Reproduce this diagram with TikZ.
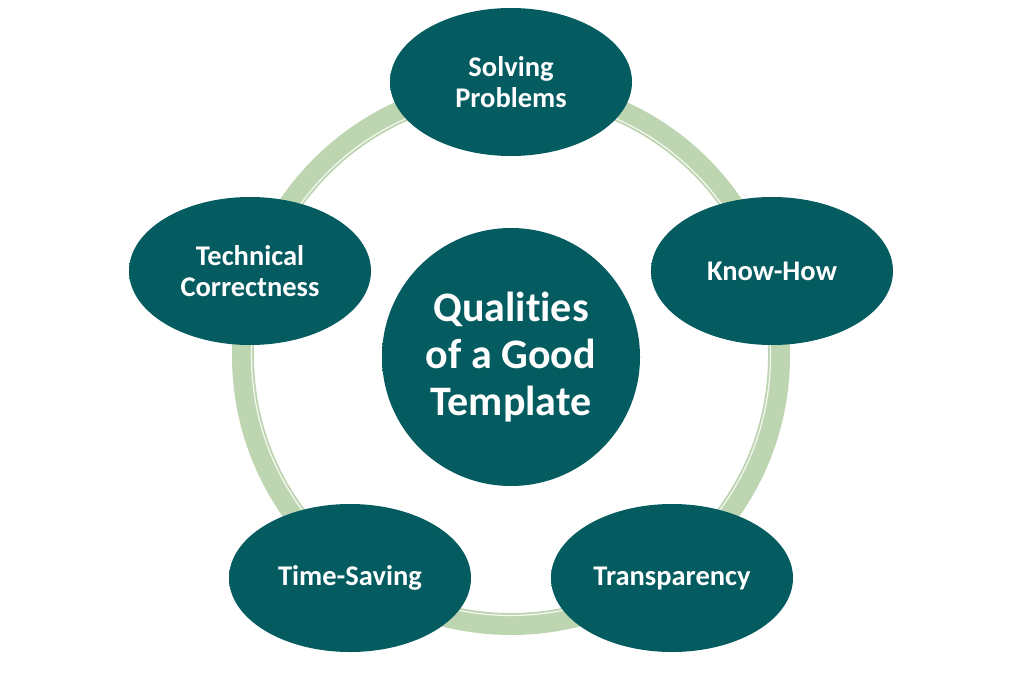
\documentclass[tikz,border=0pt]{standalone}
\usepackage{fontspec}
\setmainfont{Carlito}[Ligatures=NoCommon]
\usetikzlibrary{shapes.geometric}
\definecolor{tealA}{RGB}{4,91,96}
\definecolor{tealRim}{RGB}{120,198,202}
\definecolor{ringG}{RGB}{189,213,176}
\pgfdeclareradialshading{bevel}{\pgfpoint{0bp}{0bp}}{color(0bp)=(tealA); color(46bp)=(tealA); color(48.6bp)=(tealA!55!tealRim); color(50bp)=(tealRim)}
\tikzset{
  quality/.style={ellipse, shading=bevel, minimum width=242pt, minimum height=148pt, inner sep=0pt,
    text=white, align=center, font=\bfseries\fontsize{28.5}{31}\selectfont},
  hub/.style={circle, shading=bevel, minimum size=258pt, inner sep=0pt,
    text=white, align=center, font=\bfseries\fontsize{42}{47}\selectfont},
}
\begin{document}
\begin{tikzpicture}[x=1pt,y=1pt]
\useasboundingbox (0,0) rectangle (1024,-682);
\coordinate (c) at (511,-356);
\draw[ringG, line width=22pt] (c) circle (268);
\draw[white, line width=1.2pt, opacity=0.85] (c) circle (259.5);
\node[hub] (hub) at (511,-357) {Qualities\\of a Good\\Template};
\node[quality] (n1) at (511,-82) {Solving\\Problems};
\node[quality] (n2) at (772,-271) {Know-How};
\node[quality] (n3) at (672,-578) {Transparency};
\node[quality] (n4) at (350,-578) {Time-Saving};
\node[quality] (n5) at (250,-271) {Technical\\Correctness};
\end{tikzpicture}
\end{document}
